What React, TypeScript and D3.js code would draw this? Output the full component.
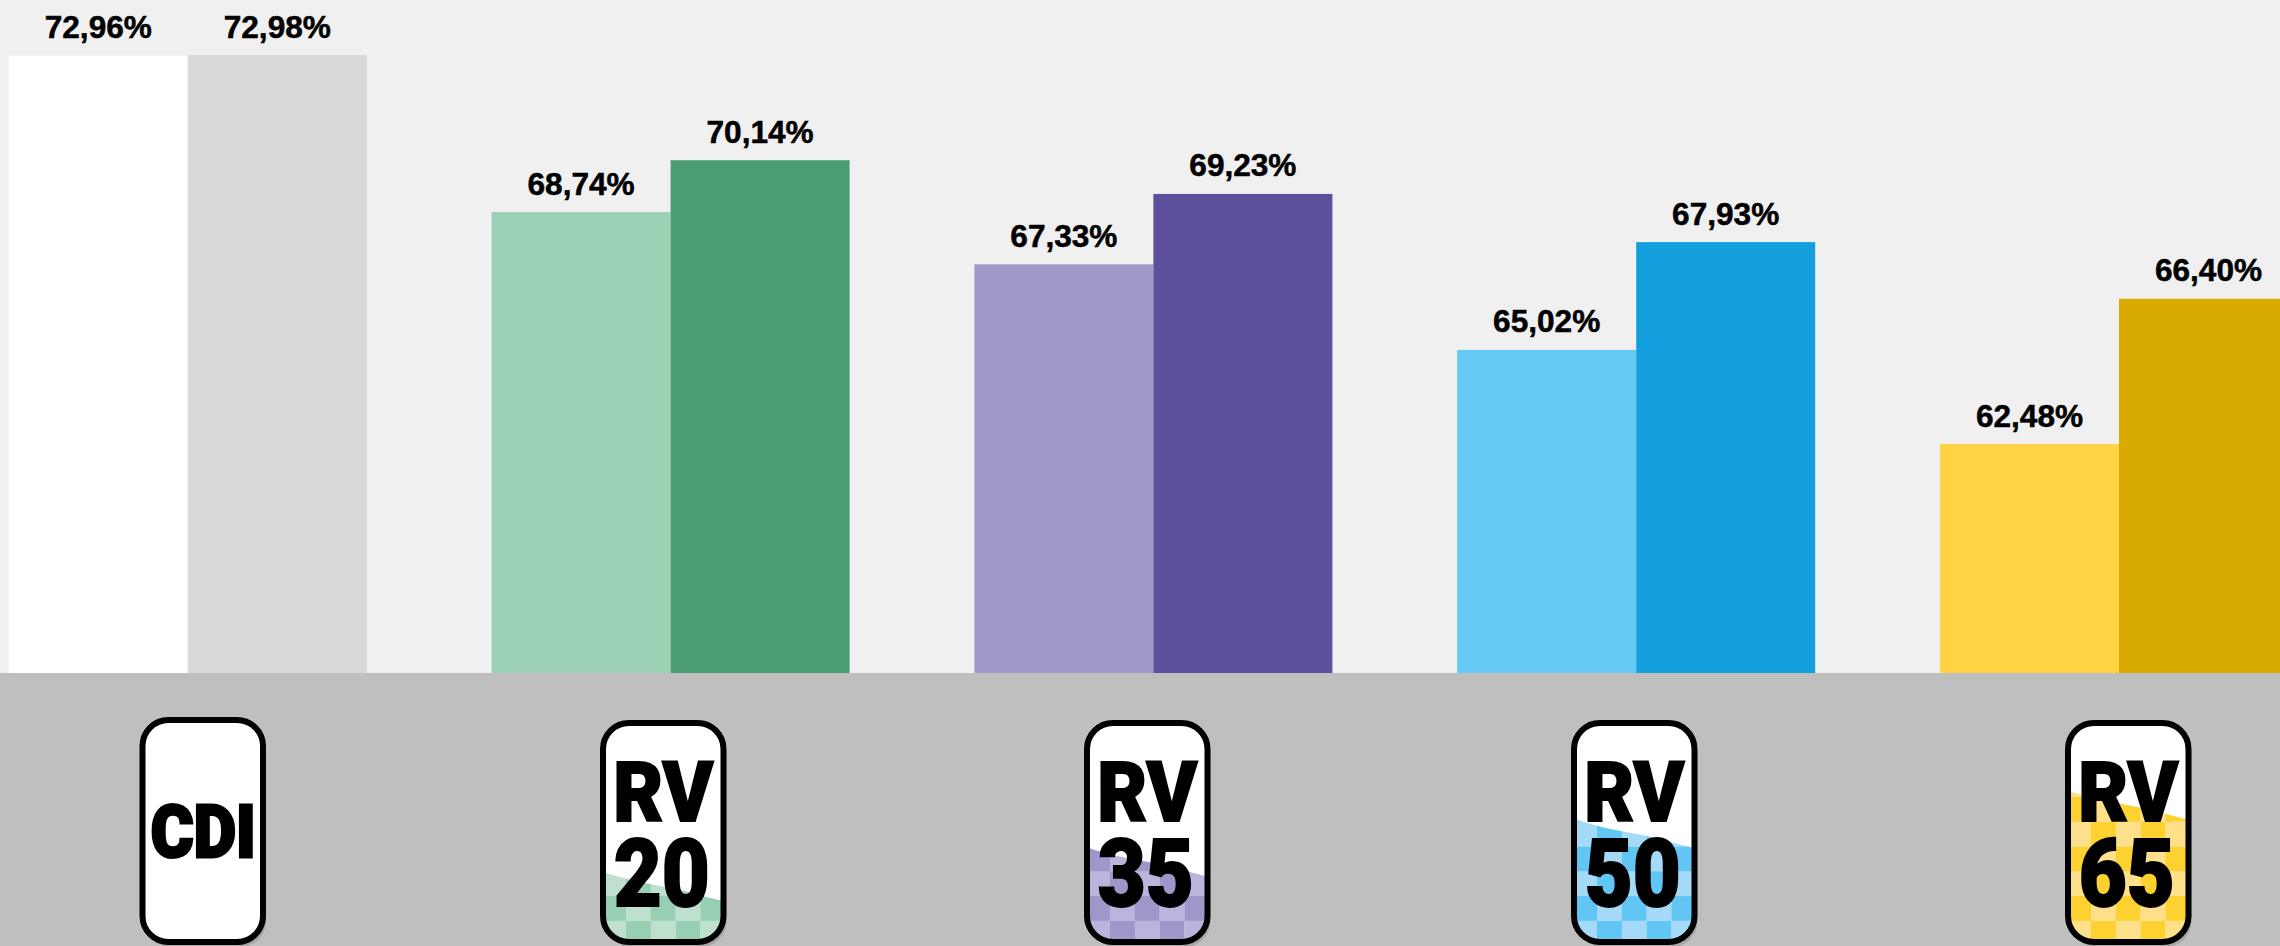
import React from "react";
import * as d3 from "d3";

const groups = ["CDI", "RV 20", "RV 35", "RV 50", "RV 65"];
const seriesA = [72.96, 68.74, 67.33, 65.02, 62.48];
const seriesB = [72.98, 70.14, 69.23, 67.93, 66.4];
const labelsA = ["72,96%", "68,74%", "67,33%", "65,02%", "62,48%"];
const labelsB = ["72,98%", "70,14%", "69,23%", "67,93%", "66,40%"];
const colorsA = ["#ffffff", "#9cd0b4", "#a198c8", "#66c8f4", "#ffd344"];
const colorsB = ["#d9d9d9", "#4b9d74", "#5e4f9c", "#139fdd", "#d9aa00"];
const checkerDark = ["#ffffff", "#97cfb3", "#a096c9", "#62c6f4", "#fdd12f"];
const checkerLight = ["#ffffff", "#bfe0ce", "#bcb4dc", "#a4daf8", "#ffe08a"];
const badgeLines = [["CDI"], ["RV", "20"], ["RV", "35"], ["RV", "50"], ["RV", "65"]];
const badgeLefts = [139.5, 600, 1084, 1571, 2065];
const badgeTops = [717, 720, 720, 720, 720];
const waveStart = [0, 873, 848.3, 820, 791.7];

const W = 2280;
const H = 946;
const base = 673;
const BW = 126.5;
const STROKE = 6;
const CELL = 24.8;
const RADIUS = 26;
const FONT = "Roboto, 'Liberation Sans', sans-serif";
const LABEL_FONT = "'Liberation Sans', Arial, sans-serif";

export default function App() {
  const y = d3.scaleLinear().domain([56.3, 72.98]).range([base, 55]);
  const x0 = d3.scaleBand<string>().domain(groups).range([8.8, 2298]).paddingInner(124.8 / 482.8).paddingOuter(0);
  const x1 = d3.scaleBand<string>().domain(["a", "b"]).range([0, x0.bandwidth()]);
  const wave = d3.line<[number, number]>().curve(d3.curveBasis);

  return (
    <svg width={W} height={H} viewBox={`0 0 ${W} ${H}`} style={{ position: "absolute", left: 0, top: 0, display: "block" }}>
      <rect width={W} height={H} fill="#f0f0f0" />
      <rect y={base} width={W} height={H - base} fill="#bfbfbf" />

      {groups.map((g, i) => {
        const gx = x0(g) as number;
        const bw = x1.bandwidth();
        return (
          <g key={g}>
            <rect x={gx + (x1("a") as number)} y={y(seriesA[i])} width={bw} height={base - y(seriesA[i])} fill={colorsA[i]} />
            <rect x={gx + (x1("b") as number)} y={y(seriesB[i])} width={bw} height={base - y(seriesB[i])} fill={colorsB[i]} />
            <text x={gx + (x1("a") as number) + bw / 2} y={y(seriesA[i]) - 17.5} textAnchor="middle" fontFamily={LABEL_FONT} fontWeight={700} fontSize={31.6} fill="#000" stroke="#000" strokeWidth={0.5}>{labelsA[i]}</text>
            <text x={Math.min(gx + (x1("b") as number) + bw / 2, 2218)} y={y(seriesB[i]) - 17.5} textAnchor="middle" fontFamily={LABEL_FONT} fontWeight={700} fontSize={31.6} fill="#000" stroke="#000" strokeWidth={0.5}>{labelsB[i]}</text>
          </g>
        );
      })}

      {groups.map((g, i) => {
        const left = badgeLefts[i];
        const top = badgeTops[i];
        const rx = left + STROKE / 2;
        const ry = top + STROKE / 2;
        const rw = BW - STROKE;
        const rh = 945 - top - STROKE;
        const clipId = `clip-${i}`;
        const cx = left + BW / 2;
        const lines = badgeLines[i];
        const cells: { x: number; y: number; dark: boolean }[] = [];
        if (lines.length > 1) {
          const gridX = left + STROKE + 20 - CELL;
          const rows = d3.range(0, 7);
          const cols = d3.range(0, 6);
          rows.forEach((r) => {
            cols.forEach((c) => {
              cells.push({ x: gridX + c * CELL, y: 920.7 - r * CELL, dark: (r + c) % 2 === 0 });
            });
          });
        }
        const innerL = left + STROKE;
        const innerR = left + BW - STROKE;
        const w0 = waveStart[i];
        const wavePts: [number, number][] = [
          [innerL - 2, w0 - 0.5],
          [innerL + 30, w0 + 9],
          [innerL + 60, w0 + 13.5],
          [innerL + 90, w0 + 21],
          [innerR + 2, w0 + 28],
        ];
        const wavePath = wave(wavePts) + `L${innerR + 2},${H + 5}L${innerL - 2},${H + 5}Z`;
        return (
          <g key={g + "badge"}>
            <rect x={rx + 3} y={ry + 5} width={rw} height={rh} rx={RADIUS} fill="#a6a6a6" />
            <clipPath id={clipId}>
              <rect x={rx} y={ry} width={rw} height={rh} rx={RADIUS} />
            </clipPath>
            <clipPath id={clipId + "w"}>
              <path d={wavePath} />
            </clipPath>
            <rect x={rx} y={ry} width={rw} height={rh} rx={RADIUS} fill="#fff" />
            {lines.length > 1 && (
              <g clipPath={`url(#${clipId})`}>
                <g clipPath={`url(#${clipId}w)`}>
                  {cells.map((c, k) => (
                    <rect key={k} x={c.x} y={c.y} width={CELL + 0.2} height={CELL + 0.2} fill={c.dark ? checkerLight[i] : checkerDark[i]} />
                  ))}
                </g>
              </g>
            )}
            <rect x={rx} y={ry} width={rw} height={rh} rx={RADIUS} fill="none" stroke="#000" strokeWidth={STROKE} />
            {lines.length === 1 ? (
              <text x={cx + 0.5} y={856.5} textAnchor="middle" fontFamily={FONT} fontWeight={900} fontSize={73} textLength={105} lengthAdjust="spacingAndGlyphs" fill="#000" stroke="#000" strokeWidth={3}>{lines[0]}</text>
            ) : (
              <>
                <text x={cx} y={821} textAnchor="middle" fontFamily={FONT} fontWeight={900} fontSize={84} textLength={100} lengthAdjust="spacingAndGlyphs" fill="#000" stroke="#000" strokeWidth={2}>{lines[0]}</text>
                <text x={cx - 1.5} y={905.5} textAnchor="middle" fontFamily={FONT} fontWeight={900} fontSize={95} textLength={96} lengthAdjust="spacingAndGlyphs" fill="#000" stroke="#000" strokeWidth={2}>{lines[1]}</text>
              </>
            )}
          </g>
        );
      })}
    </svg>
  );
}
